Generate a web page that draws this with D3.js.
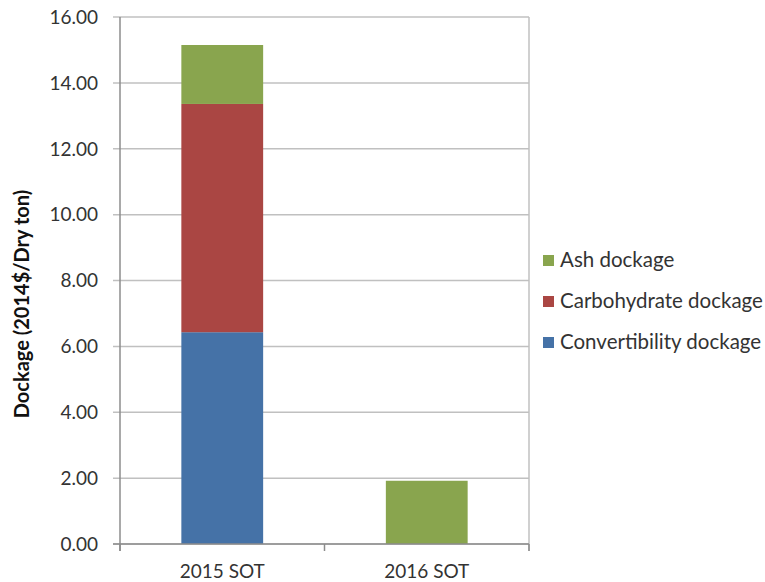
<!DOCTYPE html>
<html><head><meta charset="utf-8">
<script src="https://cdn.jsdelivr.net/npm/d3@7"></script>
<style>body{margin:0;background:#fff;} svg{display:block;}</style>
</head><body>
<svg id="c" width="765" height="582"></svg>
<script>
const categories = ["2015 SOT", "2016 SOT"];
const seriesNames = ["Convertibility dockage", "Carbohydrate dockage", "Ash dockage"];
const convertibility = [6.43, 0];
const carbohydrate = [6.93, 0];
const ash = [1.79, 1.92];
const yTicks = [0, 2, 4, 6, 8, 10, 12, 14, 16];
const colors = ["#4572A7", "#AA4643", "#89A54E"];

const rows = categories.map((c, i) => ({cat: c, "Convertibility dockage": convertibility[i], "Carbohydrate dockage": carbohydrate[i], "Ash dockage": ash[i]}));
const stack = d3.stack().keys(seriesNames)(rows);

const svg = d3.select("#c");
const L = 120, R = 529, T = 17, B = 544;
const font = "Lato, 'Open Sans', sans-serif";

const x = d3.scaleBand().domain(categories).range([L, R]).paddingInner(0.6).paddingOuter(0.3);
const y = d3.scaleLinear().domain([0, 16]).range([B, T]);

// gridlines
svg.append("g").selectAll("line").data(yTicks).join("line")
  .attr("x1", L - 7).attr("x2", R).attr("y1", d => y(d)).attr("y2", d => y(d))
  .attr("stroke", "#c0c0c0").attr("stroke-width", 1.5);
// right border
svg.append("line").attr("x1", R).attr("x2", R).attr("y1", T).attr("y2", B + 7)
  .attr("stroke", "#c0c0c0").attr("stroke-width", 1.5);

// y labels
svg.append("g").selectAll("text").data(yTicks).join("text")
  .attr("x", 98).attr("y", d => y(d)).attr("dy", "0.36em").attr("text-anchor", "end")
  .attr("font-family", font).attr("font-size", 19).attr("fill", "#333")
  .text(d => d.toFixed(2));

// bars
svg.append("g").selectAll("g").data(stack).join("g").attr("fill", (d, i) => colors[i])
  .selectAll("rect").data(d => d.filter(p => p[1] - p[0] > 0)).join("rect")
  .attr("x", d => x(d.data.cat)).attr("width", x.bandwidth())
  .attr("y", d => y(d[1])).attr("height", d => y(d[0]) - y(d[1]));

// axes lines
const step = x.step();
const xBounds = [L, L + step, R];
svg.append("line").attr("x1", L).attr("x2", L).attr("y1", T).attr("y2", B + 7)
  .attr("stroke", "#8c8c8c").attr("stroke-width", 1.5);
svg.append("line").attr("x1", L - 7).attr("x2", R).attr("y1", B).attr("y2", B)
  .attr("stroke", "#8c8c8c").attr("stroke-width", 1.5);
svg.append("g").selectAll("line").data(xBounds).join("line")
  .attr("x1", d => d).attr("x2", d => d).attr("y1", B).attr("y2", B + 7)
  .attr("stroke", "#8c8c8c").attr("stroke-width", 1.5);

// x labels
svg.append("g").selectAll("text").data(categories).join("text")
  .attr("x", d => x(d) + x.bandwidth() / 2).attr("y", 578).attr("text-anchor", "middle")
  .attr("font-family", font).attr("font-size", 19).attr("fill", "#333").text(d => d);

// y axis title
svg.append("text").attr("transform", "translate(29,304) rotate(-90)")
  .attr("text-anchor", "middle").attr("font-family", font).attr("font-weight", "bold")
  .attr("font-size", 20).attr("fill", "#111").text("Dockage (2014$/Dry ton)");

// legend
const legendItems = [2, 1, 0];
const lg = svg.append("g").selectAll("g").data(legendItems).join("g")
  .attr("transform", (d, i) => `translate(543,${260 + i * 41})`);
lg.append("rect").attr("x", 0).attr("y", -5).attr("width", 11).attr("height", 11).attr("fill", d => colors[d]);
lg.append("text").attr("x", 17).attr("y", 0).attr("dy", "0.36em")
  .attr("font-family", font).attr("font-size", 20.5).attr("fill", "#333").text(d => seriesNames[d]);
</script>
</body></html>
